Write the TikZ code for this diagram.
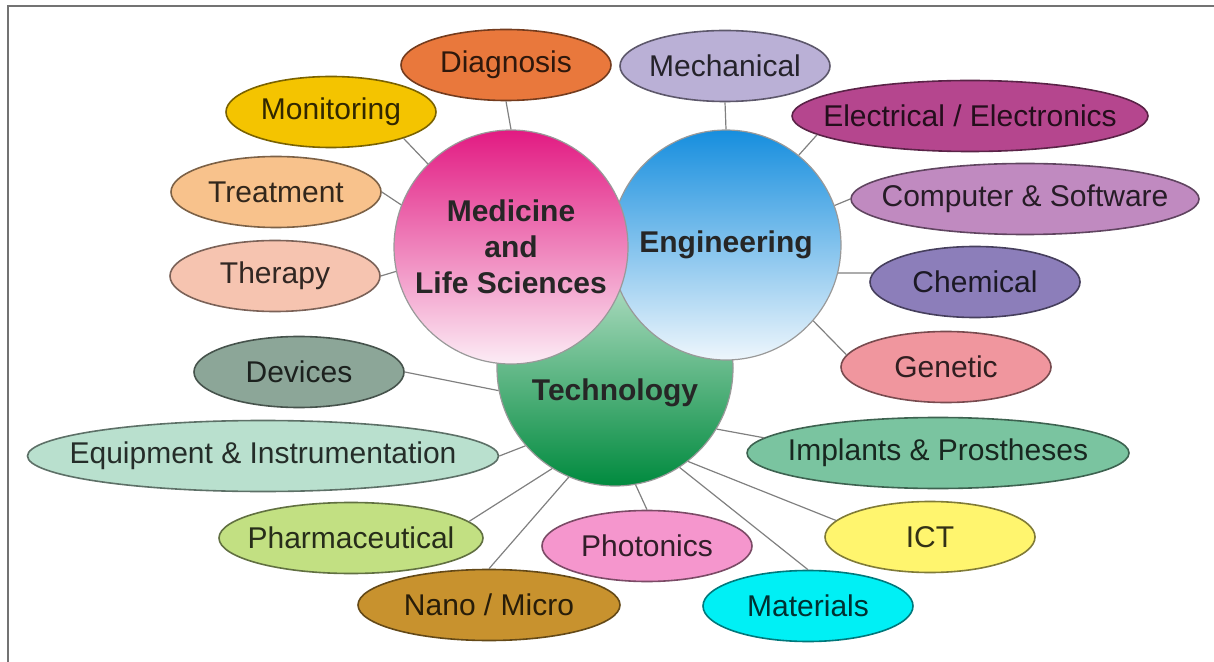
\documentclass[tikz,border=0pt]{standalone}
\usepackage{fontspec}
\setmainfont{Liberation Sans}
\usepackage{tikz}
\usetikzlibrary{shapes.geometric}

% fills of the topic ellipses
\definecolor{cDiagnosis}{RGB}{233,120,60}
\definecolor{cMonitoring}{RGB}{244,196,0}
\definecolor{cTreatment}{RGB}{248,194,140}
\definecolor{cTherapy}{RGB}{246,196,176}
\definecolor{cMechanical}{RGB}{186,176,214}
\definecolor{cElectrical}{RGB}{181,70,142}
\definecolor{cComputer}{RGB}{192,138,192}
\definecolor{cChemical}{RGB}{140,126,186}
\definecolor{cGenetic}{RGB}{240,150,158}
\definecolor{cImplants}{RGB}{122,196,160}
\definecolor{cICT}{RGB}{255,245,110}
\definecolor{cMaterials}{RGB}{0,240,245}
\definecolor{cPhotonics}{RGB}{245,150,205}
\definecolor{cNano}{RGB}{200,146,46}
\definecolor{cPharma}{RGB}{194,224,130}
\definecolor{cEquipment}{RGB}{185,224,206}
\definecolor{cDevices}{RGB}{140,166,152}

\tikzset{
  topic/.style={ellipse, draw=#1!50!black, line width=0.8pt, fill=#1, text=#1!20!black,
    minimum width=105pt, minimum height=35.5pt, inner xsep=-25pt, inner ysep=0pt,
    font=\fontsize{15}{18}\selectfont},
  hubfont/.style={font=\fontsize{15}{18}\selectfont\bfseries, text=black!85, align=center},
  hub/.style={circle, draw=gray!80, line width=0.6pt, inner sep=0pt, hubfont},
  link/.style={draw=gray, line width=0.6pt}
}

\begin{document}
\begin{tikzpicture}[x=0.5pt, y=-0.5pt]
        \useasboundingbox (0,0) rectangle (1214,662);
        \draw[gray!90!black, line width=1.2pt] (8,662) -- (8,6) -- (1214,6);

        % the three fields
        \node[hub, minimum size=118pt, top color={rgb,255:red,200;green,232;blue,212}, bottom color={rgb,255:red,0;green,138;blue,62}] (tech) at (615,368) {};
        \node[hubfont] (techlabel) at (615,393) {Technology};
        \node[hub, minimum size=115pt, top color={rgb,255:red,22;green,142;blue,222}, bottom color={rgb,255:red,238;green,246;blue,252}] (eng) at (726,245) {Engineering};
        \node[hub, minimum size=117pt, top color={rgb,255:red,226;green,26;blue,130}, bottom color={rgb,255:red,252;green,236;blue,245}] (med) at (511,247) {Medicine\\and\\Life Sciences};

        \node[topic=cDiagnosis] (diagnosis) at (506,65) {Diagnosis};
        \node[topic=cMonitoring] (monitoring) at (331,112) {Monitoring};
        \node[topic=cTreatment] (treatment) at (276,192) {Treatment};
        \node[topic=cTherapy] (therapy) at (275,276) {Therapy};

        \node[topic=cMechanical] (mechanical) at (725,66) {Mechanical};
        \node[topic=cElectrical, minimum width=178pt] (electrical) at (970,116) {Electrical / Electronics};
        \node[topic=cComputer, minimum width=174pt] (computer) at (1025,199) {Computer \& Software};
        \node[topic=cChemical] (chemical) at (975,282) {Chemical};
        \node[topic=cGenetic] (genetic) at (946,367) {Genetic};

        \node[topic=cDevices] (devices) at (299,372) {Devices};
        \node[topic=cEquipment, minimum width=235.5pt] (equipment) at (263,456) {Equipment \& Instrumentation};
        \node[topic=cPharma, minimum width=132pt] (pharma) at (351,538) {Pharmaceutical};
        \node[topic=cNano, minimum width=131pt] (nano) at (489,605) {Nano / Micro};
        \node[topic=cPhotonics] (photonics) at (647,546) {Photonics};
        \node[topic=cMaterials] (materials) at (808,606) {Materials};
        \node[topic=cICT] (ict) at (930,537) {ICT};
        \node[topic=cImplants, minimum width=191pt] (implants) at (938,453) {Implants \& Prostheses};

        \draw[link] (med.90) -- (diagnosis.south);
        \draw[link] (med.135) -- (monitoring.-20);
        \draw[link] (med.159) -- (treatment.east);
        \draw[link] (med.192) -- (therapy.east);

        \draw[link] (eng.90) -- (mechanical.south);
        \draw[link] (eng.51) -- (electrical.187);
        \draw[link] (eng.20) -- (computer.west);
        \draw[link] (eng.-14) -- (chemical.175);
        \draw[link] (eng.-41) -- (genetic.173);

        \draw[link] (tech.191) -- (devices.east);
        \draw[link] (tech.221) -- (equipment.east);
        \draw[link] (tech.238) -- (pharma.8);
        \draw[link] (tech.247) -- (nano.north);
        \draw[link] (tech.280) -- (photonics.north);
        \draw[link] (tech.-57) -- (materials.north);
        \draw[link] (tech.-52) -- (ict.170);
        \draw[link] (tech.-31) -- (implants.175);
    \end{tikzpicture}
\end{document}
